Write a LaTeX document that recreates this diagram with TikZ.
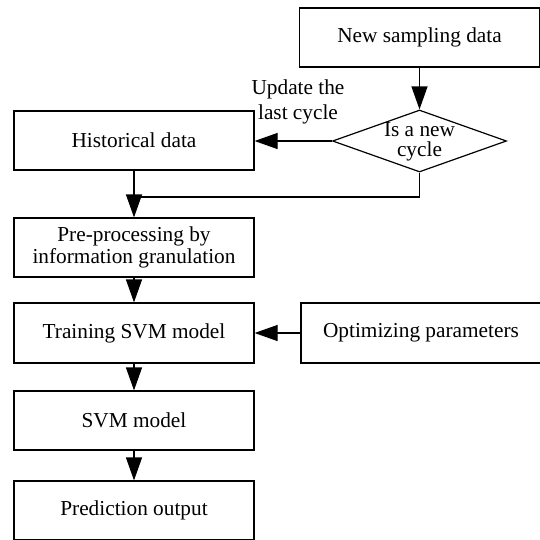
\documentclass[tikz,border=0pt]{standalone}
\usepackage{fontspec}
\setmainfont{Liberation Serif}
\usetikzlibrary{arrows.meta,shapes.geometric}
\begin{document}
\begin{tikzpicture}[x=1pt,y=-1pt,
  box/.style={draw, line width=1.2pt, minimum width=240pt, minimum height=59pt, inner sep=0pt, align=center, font=\fontsize{21.3}{21.5}\selectfont},
  decision/.style={draw, diamond, line width=1.2pt, minimum width=174pt, minimum height=62pt, inner sep=0pt},
  txt/.style={align=center, inner sep=0pt},
  arr/.style={line width=1.2pt, -{Triangle[length=23pt,width=16pt]}},
  ln/.style={line width=1.2pt}]
\useasboundingbox (0,0) rectangle (540,539);
\clip (0,0) rectangle (540,539);

\node[box] (new) at (419.5,37.5) {New sampling data};
\node[decision] (dec) at (419.5,141) {};
\node[txt, font=\fontsize{21.3}{20.5}\selectfont] (dectext) at (419.5,142) {Is a new\\cycle};
\node[box] (hist) at (134,140.5) {Historical data};
\node[txt, font=\fontsize{21.3}{25}\selectfont] (upd) at (298,102) {Update the\\last cycle};
\node[box] (pre) at (134,247.5) {Pre-processing by\\information granulation};
\node[box, minimum height=60pt] (train) at (134,333) {Training SVM model};
\node[box, minimum height=60pt] (opt) at (421,333) {Optimizing parameters};
\node[box] (svm) at (134,420.5) {SVM model};
\node[box] (pred) at (134,510.5) {Prediction output};
\coordinate (join) at (134,197);

\draw[arr] (new.south) -- (dec.north);
\draw[arr] (dec.west) -- (dec.west -| hist.east);
\draw[arr] (hist.south) -- (pre.north);
\draw[ln] (dec.south) |- (join);
\draw[arr] (pre.south) -- (train.north);
\draw[arr] (opt.west) -- (train.east);
\draw[arr] (train.south) -- (svm.north);
\draw[arr] (svm.south) -- (pred.north);
\end{tikzpicture}
\end{document}
